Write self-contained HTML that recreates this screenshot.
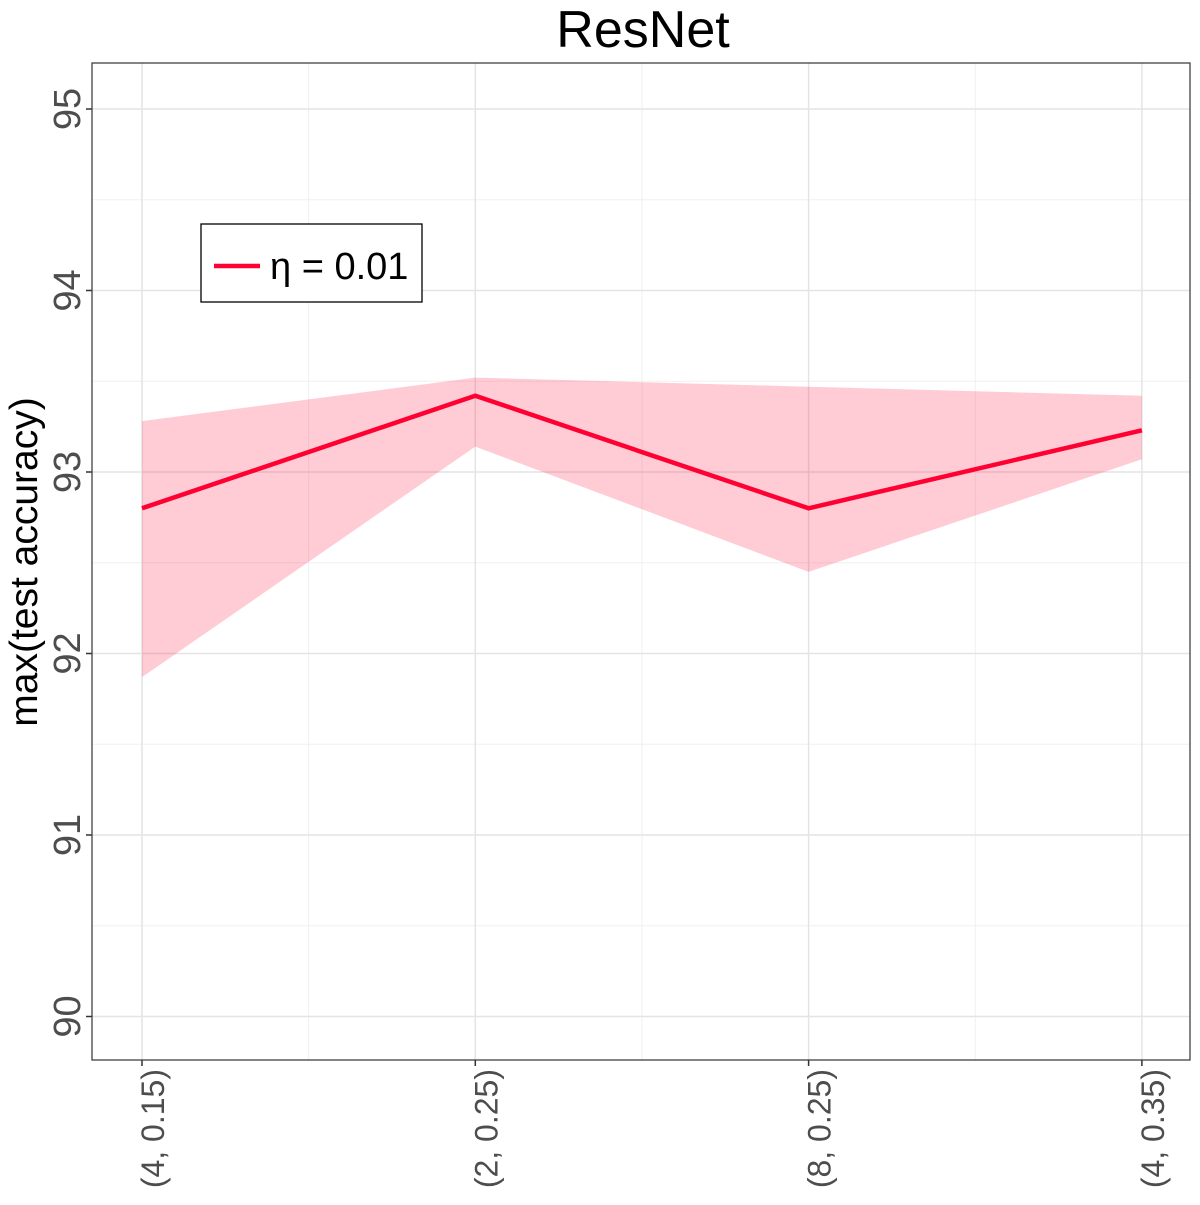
<!DOCTYPE html>
<html><head><meta charset="utf-8"><style>
body{margin:0;background:#fff;}
svg{font-family:"Liberation Sans",sans-serif;}
</style></head><body>
<svg id="chart" width="1200" height="1200"></svg>
<script>
const categories=["(4, 0.15)","(2, 0.25)","(8, 0.25)","(4, 0.35)"];
const meanVals=[92.80,93.42,92.80,93.23];
const upperVals=[93.28,93.52,93.47,93.42];
const lowerVals=[91.87,93.14,92.45,93.07];
const yTicks=[90,91,92,93,94,95];
const NS="http://www.w3.org/2000/svg";
const svg=document.getElementById('chart');
const L=92,R=1190,T=63,B=1060;
function xs(i){return 142+i*333.3;}
function ys(v){return 472-(v-93)*181.5;}
function mk(tag,attrs,parent){const e=document.createElementNS(NS,tag);for(const k in attrs)e.setAttribute(k,attrs[k]);(parent||svg).appendChild(e);return e;}
for(let v=89.5;v<=95.5;v+=1){if(ys(v)>T&&ys(v)<B){const g=mk('line',{x1:L,x2:R,y1:ys(v),y2:ys(v),stroke:'#f0f0f0','stroke-width':1});

}}
for(let i=0;i<categories.length-1;i++){const x=(xs(i)+xs(i+1))/2;const g=mk('line',{x1:x,x2:x,y1:T,y2:B,stroke:'#f0f0f0','stroke-width':1});

}
yTicks.forEach(v=>{const y=ys(v);const g=mk('line',{x1:L,x2:R,y1:y,y2:y,stroke:'#e4e4e4','stroke-width':1.5});


const t=mk('line',{x1:L-6,x2:L,y1:y,y2:y,stroke:'#333','stroke-width':1.5});


const tx=mk('text',{x:0,y:0,transform:`translate(80,${y}) rotate(-90)`,'text-anchor':'middle','font-size':38,fill:'#4d4d4d'});
tx.textContent=v;

});
categories.forEach((c,i)=>{const x=xs(i);const g=mk('line',{x1:x,x2:x,y1:T,y2:B,stroke:'#e4e4e4','stroke-width':1.5});


const t=mk('line',{x1:x,x2:x,y1:B,y2:B+6,stroke:'#333','stroke-width':1.5});


const tx=mk('text',{x:0,y:0,transform:`translate(${x+22},${B+9}) rotate(-90)`,'text-anchor':'end','font-size':32,fill:'#4d4d4d'});
tx.textContent=c;

});
let pts=upperVals.map((v,i)=>xs(i)+','+ys(v));
for(let i=lowerVals.length-1;i>=0;i--)pts.push(xs(i)+','+ys(lowerVals[i]));
const rib=mk('polygon',{points:pts.join(' '),fill:'#ff0033','fill-opacity':0.2});


const ln=mk('polyline',{points:meanVals.map((v,i)=>xs(i)+','+ys(v)).join(' '),fill:'none',stroke:'#ff0033','stroke-width':4.5});


const fr=mk('rect',{x:L,y:T,width:R-L,height:B-T,fill:'none',stroke:'#333','stroke-width':1.2});


const ttl=mk('text',{x:643,y:47,'text-anchor':'middle','font-size':52,fill:'#000'});ttl.textContent='ResNet';


const yl=mk('text',{x:0,y:0,transform:'translate(37,562) rotate(-90)','text-anchor':'middle','font-size':39,fill:'#000'});yl.textContent='max(test accuracy)';


const lg=mk('g',{});


mk('rect',{x:201,y:224,width:221,height:78,fill:'#fff',stroke:'#000','stroke-width':1.3},lg);
const le=mk('line',{x1:214,x2:260,y1:266,y2:266,stroke:'#ff0033','stroke-width':4.5},lg);


const lt=mk('text',{x:270,y:279,'font-size':38,fill:'#000'},lg);lt.textContent='η = 0.01';


</script>
</body></html>
